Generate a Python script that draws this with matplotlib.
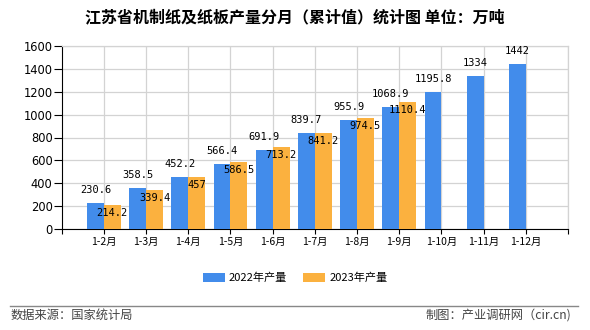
import matplotlib
matplotlib.use("Agg")
import matplotlib.pyplot as plt
from matplotlib.lines import Line2D
import numpy as np

plt.rcParams['font.family'] = ['Noto Sans CJK SC', 'DejaVu Sans']

categories = ["1-2月", "1-3月", "1-4月", "1-5月", "1-6月", "1-7月", "1-8月", "1-9月", "1-10月", "1-11月", "1-12月"]
values_2022 = [230.6, 358.5, 452.2, 566.4, 691.9, 839.7, 955.9, 1068.9, 1195.8, 1334, 1442]
labels_2022 = ["230.6", "358.5", "452.2", "566.4", "691.9", "839.7", "955.9", "1068.9", "1195.8", "1334", "1442"]
values_2023 = [214.2, 339.4, 457, 586.5, 713.2, 841.2, 974.5, 1110.4]
labels_2023 = ["214.2", "339.4", "457", "586.5", "713.2", "841.2", "974.5", "1110.4"]
series_names = ["2022年产量", "2023年产量"]
yticks = [0, 200, 400, 600, 800, 1000, 1200, 1400, 1600]

blue = "#428CEB"
orange = "#FBB13F"

fig = plt.figure(figsize=(5.9, 3.3), dpi=100)
ax = fig.add_axes([61.7/590, 1-229/330, (568-61.7)/590, (229-46)/330])

x1 = np.arange(1, len(values_2022) + 1)
x2 = np.arange(1, len(values_2023) + 1)
w = 0.4
ax.bar(x1 - w/2, values_2022, width=w, color=blue, label=series_names[0], zorder=3)
ax.bar(x2 + w/2, values_2023, width=w, color=orange, label=series_names[1], zorder=3)

for xi, v, t in zip(x1, values_2022, labels_2022):
    ax.annotate(t, (xi - w/2, v), xytext=(0, 9.4), textcoords="offset points",
                ha="center", va="center", fontsize=7.5, family="DejaVu Sans Mono", zorder=4)
for xi, v, t in zip(x2, values_2023, labels_2023):
    ax.annotate(t, (xi + w/2, v), xytext=(0, -5.8), textcoords="offset points",
                ha="center", va="center", fontsize=7.5, family="DejaVu Sans Mono", zorder=4)

ax.set_xlim(0, 12)
ax.set_ylim(0, 1600)
ax.set_yticks(yticks)
ax.set_yticklabels([str(v) for v in yticks], fontsize=8.3, family="DejaVu Sans")
ax.set_xticks(np.arange(0, 13))
ax.set_xticklabels([""] + categories + [""], fontsize=7.5)
ax.grid(True, color="#d3d3d3", linewidth=0.9, zorder=0)
ax.set_axisbelow(True)
xg = ax.get_xgridlines()
xg[0].set_visible(False)

for s in ["top", "right"]:
    ax.spines[s].set_color("#d3d3d3")
    ax.spines[s].set_linewidth(0.9)
ax.spines["left"].set_color("black")
ax.spines["bottom"].set_color("black")
ax.tick_params(axis="y", length=5.8, width=0.8, color="black", pad=0.8)
ax.tick_params(axis="x", length=3.8, width=0.8, color="black", pad=2)

fig.text(0.5, 1-17/330, "江苏省机制纸及纸板产量分月（累计值）统计图 单位：万吨",
         ha="center", va="center", fontsize=11.5, fontweight="bold")

ax.legend(loc="center", bbox_to_anchor=(0.5, 1-278/330), bbox_transform=fig.transFigure,
          ncol=2, frameon=False, fontsize=8, handlelength=2.0, handleheight=0.8,
          columnspacing=1.45, handletextpad=0.35)

fig.add_artist(Line2D([10/590, 578/590], [1-306/330, 1-306/330], color="#888888", linewidth=1,
                      transform=fig.transFigure))
fig.text(11/590, 1-315.5/330, "数据来源：国家统计局", ha="left", va="center", fontsize=8.8, color="#444444")
fig.text(571/590, 1-315.5/330, "制图：产业调研网（cir.cn)", ha="right", va="center", fontsize=8.8, color="#444444")

fig.savefig("out.png", dpi=100)
